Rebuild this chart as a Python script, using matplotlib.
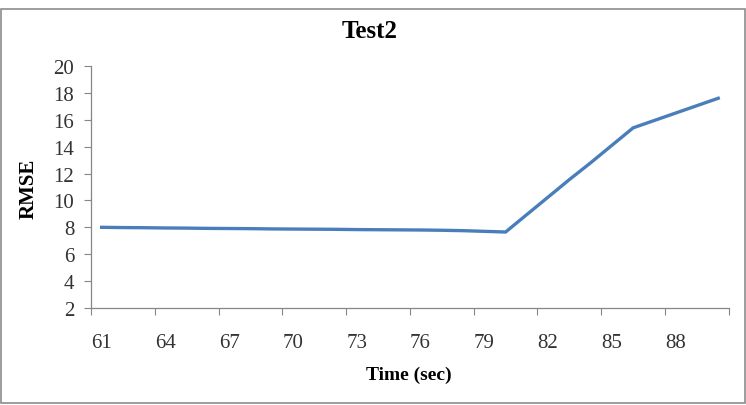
import matplotlib
matplotlib.use("Agg")
import matplotlib.pyplot as plt
from matplotlib.patches import Rectangle
import numpy as np

# categories (seconds) and RMSE
times = list(range(61, 91))
rmse = [8.00, 7.98, 7.97, 7.95, 7.94, 7.92, 7.91, 7.90, 7.88, 7.87,
        7.86, 7.85, 7.83, 7.82, 7.81, 7.80, 7.78, 7.75, 7.70, 7.65,
        8.95, 10.25, 11.55, 12.80, 14.10, 15.40, 15.95, 16.50, 17.05, 17.60]
tick_labels = [str(t) for t in times[::3]]
yticks = list(range(2, 21, 2))

plt.rcParams['font.family'] = ['Liberation Serif', 'DejaVu Serif']

fig = plt.figure(figsize=(7.46, 4.06), dpi=100)
ax = fig.add_axes([0.122, 0.239, 0.855, 0.596])

pos = np.arange(len(times)) + 0.5
ax.plot(pos, rmse, color='#4a7ebb', lw=2.4, solid_joinstyle='miter')

ax.set_xlim(0, len(times))
ax.set_ylim(2, 20)
ax.set_yticks(yticks)
ax.set_xticks(np.arange(0, len(times) + 1, 3))
ax.set_xticklabels([])
ax.set_xticks(pos[::3], minor=True)
ax.set_xticklabels(tick_labels, minor=True)
ax.tick_params(axis='x', which='minor', length=0, pad=18, labelsize=15, colors='#333333')
ax.tick_params(axis='x', which='major', length=5, color='#868686')
ax.tick_params(axis='y', length=5, color='#868686', labelsize=15, labelcolor='#333333', pad=7)

for s in ['top', 'right']:
    ax.spines[s].set_visible(False)
for s in ['left', 'bottom']:
    ax.spines[s].set_color('#868686')
    ax.spines[s].set_linewidth(0.9)

fig.text(369.5 / 746, 1 - 31 / 406, 'Test2', fontsize=18, fontweight='bold',
         ha='center', va='center')
ax.set_xlabel('Time (sec)', fontsize=14, fontweight='bold', va='center')
ax.xaxis.set_label_coords((409 - 91) / 638, -66 / 242)
ax.set_ylabel('RMSE', fontsize=15, fontweight='bold', va='center')
ax.yaxis.set_label_coords(-62 / 638, (309 - 189) / 242)

fig.patches.append(Rectangle((0.002, 0.004), 0.996, 0.972, transform=fig.transFigure,
                             fill=False, edgecolor='#8c8c8c', lw=1.2))

fig.savefig('out.png', dpi=100)
